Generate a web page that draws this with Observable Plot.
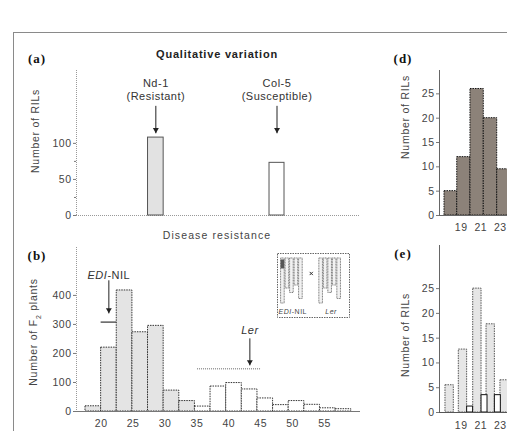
<!DOCTYPE html>
<html><head><meta charset="utf-8">
<script src="https://cdn.jsdelivr.net/npm/d3@7"></script>
<script src="https://cdn.jsdelivr.net/npm/@observablehq/plot@0.6"></script>
<style>
html,body{margin:0;padding:0;background:#fff;overflow:hidden;}
#fig{position:relative;width:507px;height:431px;overflow:hidden;font-family:"Liberation Sans",Arial,sans-serif;color:#333;}
#fig svg{position:absolute;left:0;top:0;background:transparent !important;max-width:none !important;overflow:hidden;}
#fig svg text{letter-spacing:0.5px;}
.t{position:absolute;white-space:nowrap;transform:translate(-50%,-50%);line-height:1;}
.lab{font-family:"Liberation Serif",serif;font-weight:bold;font-size:13px;letter-spacing:1px;color:#111;}
.ttl{font-weight:bold;font-size:11px;letter-spacing:0.8px;color:#222;}
.xl{font-size:10.5px;letter-spacing:1.1px;color:#444;}
.yl{font-size:10.5px;letter-spacing:0.75px;color:#444;transform:translate(-50%,-50%) rotate(-90deg);}
#frame{position:absolute;left:13px;top:32px;width:600px;height:500px;border-top:1px solid #8a8a8a;border-left:1px solid #8a8a8a;}
</style></head><body>
<div id="fig"><div id="frame"></div></div>
<script>
// ---------- DATA ----------
// (a) qualitative variation: parental lines
const aNames = ["Nd-1", "Col-5"];
const aSubs = ["(Resistant)", "(Susceptible)"];
const aBinStart = [27.34, 46.38];
const aBinEnd = [29.79, 48.73];
const aCounts = [108, 73];
const aFills = ["#e2e2e2", "#ffffff"];

// (b) disease resistance of F2 plants (bin edges, counts)
const bEdges = [17.54, 19.99, 22.44, 24.89, 27.34, 29.79, 32.24, 34.69, 37.14, 39.59, 42.04, 44.49, 46.94, 49.39, 51.84, 54.29, 56.74, 59.19];
const bCounts = [18, 220, 417, 273, 295, 72, 36, 17, 86, 98, 76, 45, 22, 36, 23, 11, 8];
const bClass = ["R","R","R","R","R","R","R","S","S","S","S","S","S","S","S","S","S"];
const bTicks = [20, 25, 30, 35, 40, 45, 50, 55];
// parental annotations (x, label y, arrow from / to, bar line y, line x-range)
const bParents = ["EDI-NIL", "Ler"];
const bParentX = [21.2, 43.3];
const bParentTextY = [469, 279];
const bArrowFrom = [452, 252];
const bArrowTo = [338, 159];
const bLineY = [308, 147];
const bLineX1 = [19.99, 35.1];
const bLineX2 = [22.44, 45.06];

// inset: chromosome schematic (Mb)
const chrLen = [30, 20, 23, 18, 27];
const insetGroups = ["EDI-NIL", "Ler"];

// (d) RILs
const dEdges = [17.3, 18.6, 19.95, 21.31, 22.68, 24.03];
const dCounts = [5, 12, 26, 20, 9.5];

// (e) RILs split in two classes
const eBinStart = [17.4, 18.76, 20.23, 21.59, 23.01];
const eGray = [5.5, 12.7, 25, 17.8, 6.5];
const eWhite = [0, 1.2, 3.5, 3.5, 0];
const deTicks = [19, 21, 23];

// ---------- DRAW ----------
const W = 507, H = 431;
const fig = document.getElementById("fig");
const FONT = '"Liberation Sans", Arial, sans-serif';
const base = {width: W, height: H, style: {fontFamily: FONT, fontSize: "10.5px", color: "#444", background: "transparent"}};
const ax = {label: null, stroke: "#777", fill: "#444", fontSize: 10.5, tickFormat: d => String(d)};

function add(svg) { fig.appendChild(svg); return svg; }
function italicise(svg) {
  svg.querySelectorAll("text").forEach(t => {
    if (t.textContent === "EDI-NIL") t.innerHTML = '<tspan font-style="italic">EDI</tspan>-NIL';
  });
}
function arrowMarks(data, x, y1, y2) {
  return [
    Plot.link(data, {x1: x, x2: x, y1: y1, y2: y2, stroke: "#222", strokeWidth: 1}),
    Plot.dot(data, {x: x, y: y2, symbol: "triangle", rotate: 180, r: 2.2, fill: "#222", stroke: "none", dy: -3.5})
  ];
}

// panel (a)
const xDomB = [16.13, 60.64];
const aData = aNames.map((n, i) => ({name: n, sub: aSubs[i], x1: aBinStart[i], x2: aBinEnd[i], n: aCounts[i], fill: aFills[i]}));
const aMid = d => (d.x1 + d.x2) / 2;
add(Plot.plot({...base, marginLeft: 76, marginRight: 147, marginTop: 70, marginBottom: 216,
  x: {domain: xDomB, axis: null}, y: {domain: [0, 201], axis: null},
  marks: [
    Plot.ruleX([xDomB[0]], {stroke: "#999", strokeDasharray: "1,1"}),
    Plot.ruleY([0], {stroke: "#999", strokeDasharray: "1,1"}),
    Plot.rectY(aData, {x1: "x1", x2: "x2", y: "n", fill: d => d.fill, stroke: "#555"}),
    Plot.axisY({...ax, ticks: [0, 50, 100], tickSize: 3, tickPadding: 2}),
    Plot.axisY({...ax, ticks: [25, 75], tickSize: 2, tickFormat: () => ""}),
    Plot.text(aData, {x: aMid, y: 183, text: "name", fontSize: 11, fill: "#333"}),
    Plot.text(aData, {x: aMid, y: 165, text: "sub", fontSize: 11, fill: "#333"}),
    ...arrowMarks(aData, aMid, 152, 114)
  ]}));

// panel (b)
const bData = bCounts.map((c, i) => ({x1: bEdges[i], x2: bEdges[i + 1], n: c, cls: bClass[i]}));
const bAnn = bParents.map((p, i) => ({name: p, x: bParentX[i], ty: bParentTextY[i], y1: bArrowFrom[i], y2: bArrowTo[i], ly: bLineY[i], lx1: bLineX1[i], lx2: bLineX2[i]}));
const isLer = d => d.name === "Ler";
const bPlot = add(Plot.plot({...base, marginLeft: 76, marginRight: 147, marginTop: 247, marginBottom: 20,
  x: {domain: xDomB}, y: {domain: [0, 565]},
  marks: [
    Plot.ruleX([xDomB[0]], {stroke: "#999", strokeDasharray: "1,1"}),
    Plot.rectY(bData, {x1: "x1", x2: "x2", y: "n", fill: d => d.cls === "R" ? "#e4e4e4" : "#ffffff", stroke: "#333", strokeDasharray: "1.5,1"}),
    Plot.ruleY([0], {stroke: "#777"}),
    Plot.axisY({...ax, ticks: [0, 100, 200, 300, 400], tickSize: 3, tickPadding: 2}),
    Plot.axisX({...ax, ticks: bTicks, tickSize: 0, tickPadding: 8}),
    Plot.ruleY(bAnn.filter(d => !isLer(d)), {y: "ly", x1: "lx1", x2: "lx2", stroke: "#333", strokeWidth: 1.2}),
    Plot.ruleY(bAnn.filter(isLer), {y: "ly", x1: "lx1", x2: "lx2", stroke: "#999", strokeDasharray: "1,1", strokeWidth: 1.5}),
    ...arrowMarks(bAnn, "x", "y1", "y2"),
    Plot.text(bAnn.filter(d => !isLer(d)), {x: "x", y: "ty", text: "name", fontSize: 11, fill: "#333"}),
    Plot.text(bAnn.filter(isLer), {x: "x", y: "ty", text: "name", fontSize: 11, fill: "#333", fontStyle: "italic"})
  ]}));
italicise(bPlot);

// inset
const chrData = [];
insetGroups.forEach((g, gi) => chrLen.forEach((L, ci) => chrData.push({g, pos: ci + 1 + gi * 8.5, len: L})));
const introg = [{pos: 1, y1: 1, y2: 7}];
const insetLabels = [{t: "EDI-NIL", x: 3.2, y: 35.4}, {t: "Ler", x: 11.7, y: 35.4}];
const inset = add(Plot.plot({...base, marginLeft: 277, marginRight: 158, marginTop: 253, marginBottom: 114,
  x: {domain: [-0.2, 15.8], axis: null}, y: {domain: [-3.3, 39.3], reverse: true, axis: null},
  marks: [
    Plot.frame({stroke: "#666", fill: "#fff", strokeDasharray: "1.5,1"}),
    Plot.rectY(chrData, {x1: d => d.pos - 0.4, x2: d => d.pos + 0.4, y1: 0, y2: "len", fill: "#f2f2f2", stroke: "#777", strokeDasharray: "1,0.6"}),
    Plot.rectY(introg, {x1: d => d.pos - 0.4, x2: d => d.pos + 0.4, y1: "y1", y2: "y2", fill: "#555"}),
    Plot.dot([{x: 7.3, y: 10}], {x: "x", y: "y", symbol: "times", r: 1.6, stroke: "#333", strokeWidth: 1}),
    Plot.text(insetLabels.filter(d => d.t !== "Ler"), {x: "x", y: "y", text: "t", fontSize: 7, fill: "#444"}),
    Plot.text(insetLabels.filter(d => d.t === "Ler"), {x: "x", y: "y", text: "t", fontSize: 7, fill: "#444", fontStyle: "italic"})
  ]}));
italicise(inset);

// panel (d)
const xDomD = [16.79, 23.73];
const dData = dCounts.map((c, i) => ({x1: dEdges[i], x2: dEdges[i + 1], n: c}));
add(Plot.plot({...base, marginLeft: 439, marginRight: 0, marginTop: 70, marginBottom: 216,
  x: {domain: xDomD}, y: {domain: [0, 29.8]},
  marks: [
    Plot.rectY(dData, {x1: "x1", x2: "x2", y: "n", fill: "#8c8279", stroke: "#111", strokeDasharray: "1.5,1"}),
    Plot.ruleX([xDomD[0]], {stroke: "#666"}),
    Plot.ruleY([0], {stroke: "#666"}),
    Plot.axisY({...ax, ticks: [0, 5, 10, 15, 20, 25], tickSize: 3, tickPadding: 2}),
    Plot.axisX({...ax, ticks: deTicks, tickSize: 0, tickPadding: 8})
  ]}));

// panel (e)
const eGrayData = eBinStart.map((s, i) => ({x1: s, x2: s + 0.85, n: eGray[i]}));
const eWhiteData = eBinStart.map((s, i) => ({x1: s + 0.85, x2: s + 1.46, n: eWhite[i]})).filter(d => d.n > 0);
add(Plot.plot({...base, marginLeft: 439, marginRight: 0, marginTop: 245, marginBottom: 19,
  x: {domain: xDomD}, y: {domain: [0, 33.7]},
  marks: [
    Plot.rectY(eGrayData, {x1: "x1", x2: "x2", y: "n", fill: "#e6e6e6", stroke: "#555", strokeDasharray: "1.5,1"}),
    Plot.rectY(eWhiteData, {x1: "x1", x2: "x2", y: "n", fill: "#fff", stroke: "#111"}),
    Plot.ruleX([xDomD[0]], {stroke: "#666"}),
    Plot.ruleY([0], {stroke: "#555"}),
    Plot.axisY({...ax, ticks: [0, 5, 10, 15, 20, 25], tickSize: 3, tickPadding: 2}),
    Plot.axisX({...ax, ticks: deTicks, tickSize: 0, tickPadding: 9})
  ]}));

// ---------- FRAME TEXT ----------
const texts = [
  {cls: "lab", html: "(a)", x: 37, y: 58},
  {cls: "ttl", html: "Qualitative variation", x: 217, y: 54},
  {cls: "xl", html: "Disease resistance", x: 217, y: 235},
  {cls: "lab", html: "(b)", x: 37, y: 255},
  {cls: "lab", html: "(d)", x: 403, y: 58},
  {cls: "lab", html: "(e)", x: 403, y: 253},
  {cls: "yl", html: "Number of RILs", x: 35, y: 131},
  {cls: "yl", html: "Number of F<sub style=\"font-size:7px\">2</sub> plants", x: 35, y: 332},
  {cls: "yl", html: "Number of RILs", x: 405, y: 117},
  {cls: "yl", html: "Number of RILs", x: 405, y: 335}
];
texts.forEach(t => {
  const el = document.createElement("div");
  el.className = "t " + t.cls;
  el.style.left = t.x + "px";
  el.style.top = t.y + "px";
  el.innerHTML = t.html;
  fig.appendChild(el);
});
</script>
</body></html>
